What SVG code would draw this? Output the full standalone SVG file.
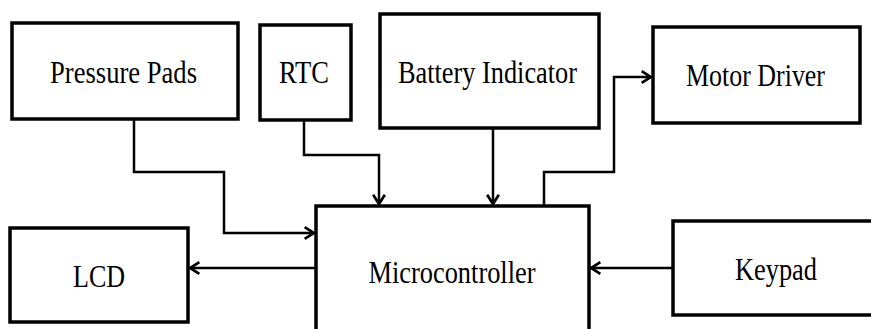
<svg xmlns="http://www.w3.org/2000/svg" width="871" height="329" viewBox="0 0 871 329">
<style>
.box{fill:#fff;stroke:#000;stroke-width:3.5}
.lbl{font-family:'Liberation Serif','DejaVu Serif',serif;font-size:32px;fill:#000;text-anchor:middle}
.con{fill:none;stroke:#000;stroke-width:2.5;stroke-linejoin:miter}
</style>
<defs>
<marker id="arr" markerWidth="14" markerHeight="14" refX="10" refY="6" orient="auto" markerUnits="userSpaceOnUse" viewBox="0 0 12 12">
<path d="M2,1 L10,6 L2,11" fill="none" stroke="#000" stroke-width="2.3"/>
</marker>
</defs>
<rect width="871" height="329" fill="#fff"/>
<g id="connectors">
<polyline class="con" points="134,119 134,172 224,172 224,233 314,233" marker-end="url(#arr)"/>
<polyline class="con" points="304,120 304,155 379,155 379,204" marker-end="url(#arr)"/>
<polyline class="con" points="493,128 493,204" marker-end="url(#arr)"/>
<polyline class="con" points="544,206 544,172 614,172 614,77 651,77" marker-end="url(#arr)"/>
<polyline class="con" points="316,268 190,268" marker-end="url(#arr)"/>
<polyline class="con" points="673,268 591,268" marker-end="url(#arr)"/>
</g>
<g id="pressure-pads">
<rect class="box" x="12" y="23" width="226" height="96"/>
<text class="lbl" font-family="Liberation Serif, serif" x="123.5" y="83" textLength="147" lengthAdjust="spacingAndGlyphs">Pressure Pads</text>
</g>
<g id="rtc">
<rect class="box" x="260" y="25" width="91" height="95"/>
<text class="lbl" font-family="Liberation Serif, serif" x="304" y="83" textLength="50" lengthAdjust="spacingAndGlyphs">RTC</text>
</g>
<g id="battery-indicator">
<rect class="box" x="380" y="14" width="219" height="114"/>
<text class="lbl" font-family="Liberation Serif, serif" x="487.5" y="83" textLength="179" lengthAdjust="spacingAndGlyphs">Battery Indicator</text>
</g>
<g id="motor-driver">
<rect class="box" x="653" y="27" width="207" height="96"/>
<text class="lbl" font-family="Liberation Serif, serif" x="755.5" y="86" textLength="139" lengthAdjust="spacingAndGlyphs">Motor Driver</text>
</g>
<g id="lcd">
<rect class="box" x="10" y="228" width="178" height="94"/>
<text class="lbl" font-family="Liberation Serif, serif" x="99" y="287" textLength="52" lengthAdjust="spacingAndGlyphs">LCD</text>
</g>
<g id="microcontroller">
<rect class="box" x="316" y="206" width="273" height="130"/>
<text class="lbl" font-family="Liberation Serif, serif" x="452" y="283" textLength="167" lengthAdjust="spacingAndGlyphs">Microcontroller</text>
</g>
<g id="keypad">
<rect class="box" x="673" y="221" width="210" height="94"/>
<text class="lbl" font-family="Liberation Serif, serif" x="776" y="280" textLength="82" lengthAdjust="spacingAndGlyphs">Keypad</text>
</g>
</svg>
